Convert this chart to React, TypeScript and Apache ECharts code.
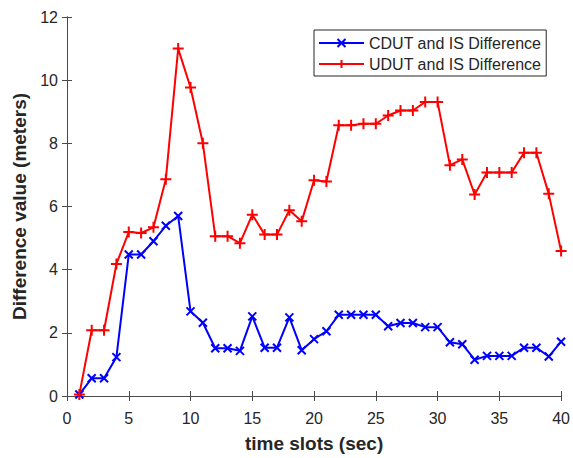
import React, { useEffect, useRef } from "react";
import * as echarts from "echarts";

const timeSlots = [1,2,3,4,5,6,7,8,9,10,11,12,13,14,15,16,17,18,19,20,21,22,23,24,25,26,27,28,29,30,31,32,33,34,35,36,37,38,39,40];
const cdutValues = [0.05,0.56,0.56,1.23,4.48,4.48,4.9,5.39,5.7,2.68,2.32,1.51,1.51,1.43,2.52,1.53,1.53,2.49,1.45,1.8,2.05,2.57,2.57,2.57,2.57,2.21,2.31,2.31,2.18,2.18,1.7,1.64,1.15,1.27,1.27,1.27,1.53,1.53,1.25,1.72];
const udutValues = [0.05,2.08,2.08,4.18,5.19,5.16,5.34,6.86,11.0,9.77,8.0,5.06,5.06,4.84,5.74,5.11,5.11,5.88,5.53,6.83,6.79,8.57,8.57,8.62,8.62,8.88,9.04,9.04,9.31,9.31,7.31,7.49,6.38,7.08,7.08,7.08,7.7,7.7,6.4,4.59];
const seriesNames = ["CDUT and IS Difference", "UDUT and IS Difference"];
const xTitle = "time slots (sec)";
const yTitle = "Difference value (meters)";

const FONT = "'Liberation Sans', Arial, sans-serif";
const TXT = "#262626";
const AX = "#4a4a4a";

export default function App() {
  const ref = useRef<HTMLDivElement>(null);
  useEffect(() => {
    if (!ref.current) return;
    const chart = echarts.init(ref.current, null, { renderer: "svg" });
    const axisCommon = {
      axisLine: { show: true, lineStyle: { color: AX, width: 1 } },
      axisTick: { show: true, inside: true, length: 5, lineStyle: { color: AX } },
      splitLine: { show: false },
    };
    chart.setOption({
      animation: false,
      backgroundColor: "#ffffff",
      grid: { left: 67, right: 11, top: 17, bottom: 56, containLabel: false },
      legend: {
        orient: "vertical",
        left: 314,
        top: 30,
        itemWidth: 45,
        itemHeight: 10,
        itemGap: 5,
        padding: [5, 5, 4, 4],
        borderColor: "#262626",
        borderWidth: 1,
        backgroundColor: "#fff",
        textStyle: { fontFamily: FONT, fontSize: 16, color: TXT, padding: [0, 0, 0, 0] },
        data: seriesNames,
      },
      xAxis: [
        {
          type: "value", min: 0, max: 40, interval: 5, position: "bottom",
          ...axisCommon,
          axisLabel: { fontFamily: FONT, fontSize: 16, color: TXT, margin: 14 },
          name: xTitle, nameLocation: "middle", nameGap: 38,
          nameTextStyle: { fontFamily: FONT, fontSize: 19, fontWeight: "bold", color: TXT },
        },
        {
          type: "value", min: 0, max: 40, interval: 5, position: "top",
          ...axisCommon, axisLabel: { show: false },
        },
      ],
      yAxis: [
        {
          type: "value", min: 0, max: 12, interval: 2, position: "left",
          ...axisCommon,
          axisLabel: { fontFamily: FONT, fontSize: 16, color: TXT, margin: 9 },
          name: yTitle, nameLocation: "middle", nameGap: 34,
          nameTextStyle: { fontFamily: FONT, fontSize: 19, fontWeight: "bold", color: TXT },
        },
        {
          type: "value", min: 0, max: 12, interval: 2, position: "right",
          ...axisCommon, axisLabel: { show: false },
        },
      ],
      series: [
        {
          name: seriesNames[0], type: "line",
          data: timeSlots.map((t, i) => [t, cdutValues[i]]),
          symbol: "path://M0,0L10,10M10,0L0,10",
          symbolSize: 8,
          lineStyle: { color: "#0000ff", width: 2 },
          itemStyle: { color: "#0000ff", borderColor: "#0000ff", borderWidth: 2 },
        },
        {
          name: seriesNames[1], type: "line",
          data: timeSlots.map((t, i) => [t, udutValues[i]]),
          symbol: "path://M5,0L5,10M0,5L10,5",
          symbolSize: 11,
          lineStyle: { color: "#ff0000", width: 2 },
          itemStyle: { color: "#ff0000", borderColor: "#ff0000", borderWidth: 2 },
        },
      ],
    });
    return () => chart.dispose();
  }, []);
  return (
    <div
      ref={ref}
      style={{ position: "fixed", left: 0, top: 0, width: 573, height: 458, background: "#fff" }}
    />
  );
}
